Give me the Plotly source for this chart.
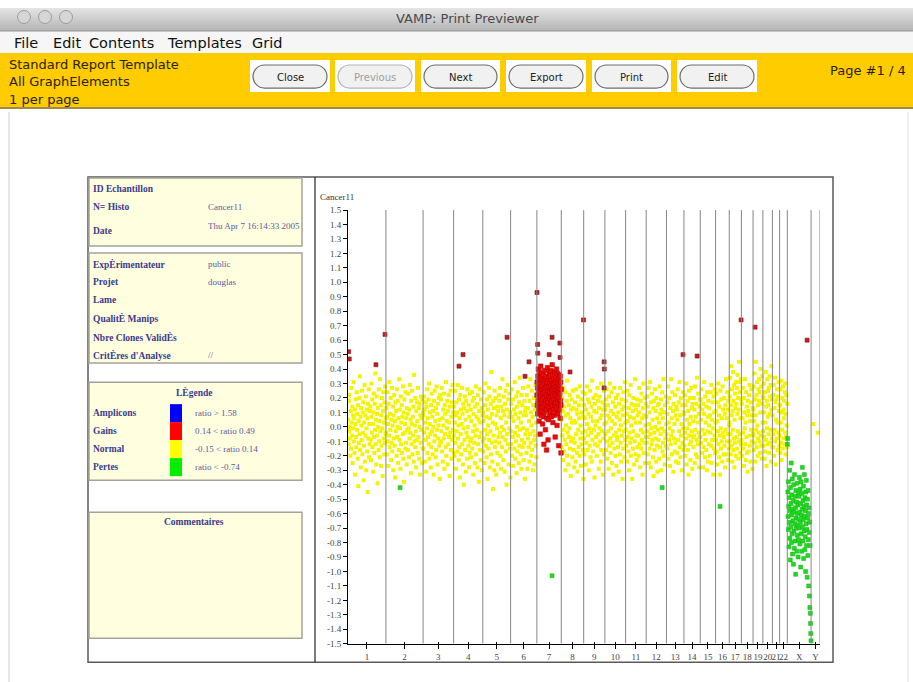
import plotly.graph_objects as go

W, H = 913, 682

# ---------------------------------------------------------------- data
chrom_names = ['1', '2', '3', '4', '5', '6', '7', '8', '9', '10', '11', '12',
               '13', '14', '15', '16', '17', '18', '19', '20', '21', '22', 'X', 'Y']
chrom_len_mb = [247, 242, 199, 190, 181, 171, 159, 146, 138, 135, 134, 132,
                114, 106, 100, 89, 79, 76, 64, 62, 47, 50, 155, 58]
# segment status of the bulk of clones on each chromosome
chrom_status = ['normal', 'normal', 'normal', 'normal', 'normal', 'normal', 'gain',
                'normal', 'normal', 'normal', 'normal', 'normal', 'normal', 'normal',
                'normal', 'normal', 'normal', 'normal', 'normal', 'normal', 'normal',
                'normal', 'loss', 'normal']

# log2 ratios x100, clones listed in map order along each chromosome
ratio_chr1 = [5, -12, 18, -3, 22, -8, 0, -20, 11, -15, 27, 3, -6, 14, -25, 8, -1, 31, -10, 6,
              -18, 12, -33, 2, 19, -7, -14, 24, -2, 9, -22, 15, -41, 4, -11, 20, -5, 35, -16, 7,
              -28, 13, 1, -9, 25, -19, 10, -4, 17, -37, -13, 3, 29, -24, 8, -6, 21, -30, -1, 12,
              -17, 6, -45, 16, -8, 26, -21, 2, -12, 11, 14, -9, -23, 7, 30, -4, 19, -14, 2, -31,
              10, 23, -7, -18, 16, -2, 37, -12, 5, -26, 21, -6, 9, -39, 13, 0, -16, 26, -10, 4,
              -21, 33, -3, 15, -27, 8, -13, 20, -1, -34, 11, 24, -8, 3, -19, 17, -11, 28, -5, 6]
ratio_chr2 = [-4, 13, -19, 7, 24, -10, 2, -27, 16, -6, 31, -14, 9, -2, 20, -23, 5, -11, 27, -17,
              1, 14, -30, 8, -8, 22, -13, 4, -35, 17, -3, 11, -20, 26, -7, 0, 18, -25, 6, -16,
              33, -9, 12, -1, -29, 21, -12, 3, 15, -18, 7, -5, 28, -22, 10, -38, 19, -4, 2, -15,
              24, -11, 6, -26, 13, -2, 9, -16, 23, -1, -21, 12, -8, 29, -4, 5, -32, 18, -12, 2,
              25, -19, 7, -6, 14, -24, 36, -10, 1, -14, 20, -3, -28, 11, -9, 17, 4, -18, 27, -7,
              13, -22, 0, 16, -33, 8, -11, 21, -2, 6, -25, 19, -15, 10]
ratio_chr3 = [8, -15, 21, -4, 12, -24, 3, 17, -9, -31, 14, -1, 26, -18, 6, -7, 19, -12, 30, -22,
              2, 10, -5, -28, 15, -14, 23, -3, 7, -19, 11, 0, -33, 18, -10, 25, -6, 4, -21, 13,
              -16, 28, -2, 9, -26, 16, -8, 1, 20, -13, 5, -36, 22, -11, -10, 19, -3, 27, -17, 6,
              -24, 12, 1, -8, 23, -29, 15, -5, 9, -14, 31, -20, 4, -1, 18, -26, 11, -12, 22, -7,
              3, -34, 14, -4, 25, -16, 7, -22, 17, -9, 29, -2, 10, -18]
ratio_chr4 = [-6, 14, -20, 3, 25, -11, 8, -29, 17, -3, 10, -17, 29, -8, 1, -23, 19, -14, 6, -35,
              22, -5, 12, -19, 2, 27, -12, 9, -26, 16, -1, -40, 13, -9, 21, -16, 5, -31, 18, -4,
              11, -22, 26, -7, 0, -13, 15, -28, 7, -18, 23, -10, 12, -21, 4, -8, 24, -15, 18, -3,
              -33, 9, 20, -11, 1, -25, 14, -6, 28, -19, 7, -2, 16, -28, 22, -12, 5, -38, 11, -7,
              26, -16, 3, -23, 19, -4, 13, -30, 8, -10]
ratio_chr5 = [10, -17, 4, 24, -8, -25, 15, -2, 30, -13, 7, -21, 19, -5, -36, 12, 1, -15, 27, -9,
              21, -28, 6, -3, 16, -19, 38, -11, 9, -24, 3, -43, 18, -6, 13, -30, 25, -14, 2, -10,
              20, -33, 8, -1, -18, 14, -26, 11, -7, 22, -11, 18, -4, 27, -20, 6, -29, 14, 0, -14,
              33, -7, 11, -23, 21, -2, 8, -31, 16, -9, 25, -17, 3, -40, 12, -5, 29, -12, 19, -26,
              7, -1, 23, -15, 10, -35]
ratio_chr6 = [-3, 16, -12, 26, -20, 7, -7, 19, -27, 4, 12, -15, 31, -4, -22, 9, -10, 21, -32, 14,
              0, -17, 24, -6, 6, -25, 17, -13, 34, -2, 10, -19, 3, -29, 22, -9, 15, -14, 27, -1,
              -23, 8, -11, 18, -36, 11, -5, 13, 8, -18, 22, -2, -29, 13, -8, 28, -14, 4, -24, 18,
              -5, 33, -11, 10, -20, 1, 25, -16, 7, -30, 15, -3, 20, -9, -26, 12, -6, 29, -13, 3,
              -21, 17]
ratio_chr7 = [22, 31, 15, 27, 9, 35, 18, 40, 25, 12, 29, 4, 33, 20, 38, 16, 24, -5, 30, 13,
              42, 21, 8, 34, 26, 17, 37, 11, 28, 19, 2, 32, 23, 14, 36, 7, 26, -12, 20, 30,
              10, 39, 24, 16, 33, -2, 27, 18, 35, 12, 22, -16, 29, 6, 31, 19, 41, 14, 25, -9,
              17, 28, 5, 34, 21, 13, 38, 24, 9, 30, 20, 35, 11, 28, 16, 39, 24, 7, 32, 18,
              26, 43, 14, 30, 21, 3, 36, 25, 12, 29, 33, 19, 8, 27, 38, 15, 23, -7, 31, 17,
              26, 10, 34, 22, 40, 13, 28, 1, 24, 37, 19, 30, 9, 25, 16, 33, -13, 27, 20, 36,
              12, 29, 23, 6, 35, 18, 31, 15, -18, 26]
ratio_chr8 = [5, -14, 20, -6, 11, -23, 27, -2, -17, 14, -9, 24, -30, 8, 1, -12, 18, -20, 32, -4,
              9, -26, 15, -7, -1, 22, -15, 6, -34, 12, -10, 19, 3, -21, 25, -8, 13, -16, 4, -28,
              -11, 17, 3, -24, 26, -5, 12, -18, 9, -31, 21, -2, -14, 15, 6, -20, 28, -8, 1, -27,
              19, -12, 10, -4, 24, -16, 7, -36]
ratio_chr9 = [-8, 15, -19, 6, 23, -3, -26, 12, -11, 28, 2, -16, 19, -6, 9, -30, 17, -1, -13, 25,
              -21, 7, -4, 14, -24, 32, -9, 4, -17, 20, -2, 11, -35, 16, -12, 1, 22, -7, 10, -20,
              4, 27, -13, 18, -5, -29, 13, -1, 21, -10, 6, -24, 30, -16, 8, -3, 17, -33, 12, -8,
              25, -19, 2, 15]
ratio_chr10 = [12, -5, 19, -16, 3, 26, -10, -22, 8, 15, -3, -29, 21, -13, 6, 30, -8, -18, 11, -1,
               24, -25, 4, -11, 17, -33, 9, -6, 27, -15, 2, 14, -20, -4, 20, -27, 7, -9, -7, 22,
               -14, 10, -31, 16, -2, 5, -19, 27, -11, 1, -24, 19, -6, 12, -36, 8, -15, 24, -3, 14,
               -21, 31, -9, 3]
ratio_chr11 = [-2, 18, -13, 9, -24, 25, -7, 4, -17, 13, -30, 22, -4, 7, -11, 29, -20, 1, 16, -8,
               -36, 11, -15, 20, -3, 6, -26, 15, -10, 33, -19, 3, 12, -6, -23, 19, -14, 8, 15, -6,
               -20, 10, 27, -12, 3, -28, 18, -2, -15, 23, -9, 6, -33, 13, -4, 30, -18, 8, -11, 20,
               -25, 1, 16, -7]
ratio_chr12 = [7, -11, 21, -3, -19, 14, -7, 27, -25, 2, 10, -15, 31, -5, -28, 17, -1, -12, 23, -9,
               5, -21, 13, -34, 18, -4, -16, 26, 0, -8, 11, -24, 20, -13, 6, -31, 15, -2, -9, 16,
               3, -22, 28, -14, 9, -5, 19, -30, 12, -1, 24, -17, 6, -11, 33, -20, 10, -3, -26, 15,
               -8, 21, -13, 2]
ratio_chr13 = [-5, 17, -15, 9, 28, -22, 3, -9, 20, -1, -27, 13, -12, 33, -6, 6, -19, 24, -3, 11,
               -31, 16, -8, 2, -17, 22, -11, 8, -24, 14, 12, -18, 5, 26, -9, -25, 17, -3, 31, -14,
               8, -21, 20, -6, 2, -30, 15, -11, 24, -1, -16, 10]
ratio_chr14 = [9, -13, 22, -4, -20, 15, -8, 30, -26, 5, -1, 18, -16, 11, -33, 25, -6, 2, -12, 20,
               -23, 7, -10, 27, -3, 13, -29, 16, -7, 4, -14, 20, -6, 12, -25, 28, -2, 7, -19, 16,
               -9, 34, -21, 3, -12, 23, -4, 9, -28, 14, -7, 19]
ratio_chr15 = [-7, 19, -11, 5, 26, -18, 12, -2, -28, 16, -14, 9, 31, -5, -21, 21, -9, 3, -16, 14,
               -30, 24, -3, 7, -24, 18, -12, 1, 13, -20, 8, -4, 24, -13, 29, -25, 5, -9, 17, -1,
               -33, 21, -15, 10, -6, 26, -18, 3]
ratio_chr16 = [11, -9, 23, -17, 4, -26, 17, -3, 30, -12, 8, -21, 14, -6, -33, 25, -1, -15, 19, -10,
               6, -24, 28, -4, 12, -19, -7, 20, -13, 9, -28, 15, -2, 33, -19, 6, -10, 24, -5, 12,
               -23, 18, -15, 1]
ratio_chr17 = [3, 21, -10, 34, -5, -19, 15, 42, -13, 8, 26, -24, 11, -2, 38, -16, 18, -8, 29, -28,
               5, -11, 23, 13, -20, 31, 16, -7, 27, -15, 9, 36, -3, 20, -22, 12, 45, -10, 31, -5,
               24, -18, 6, 33, -12, 19]
ratio_chr18 = [-9, 16, -20, 6, 27, -4, -15, 20, -27, 10, -1, 33, -12, 3, -23, 24, -7, 14, -18, 8,
               -31, 18, 11, -17, 22, -6, 29, -13, 4, -24, 17, -2, 26, -10, 8, -29, 13, -5]
ratio_chr19 = [12, -6, 28, -16, 4, 37, -11, 19, -24, 8, 45, -2, 22, -14, 31, 1, -20, 15, -8, 26,
               -4, 18, 33, -10, 24, -18, 10, 40, -6, 28, -13, 16, -22, 35, 3, 21]
ratio_chr20 = [-3, 20, -13, 30, -7, 10, -22, 24, 3, -17, 38, -9, 14, -27, 18, -1, 33, -12, 7, 25,
               15, -5, 27, -18, 9, 35, -11, 21, -2, 29, -24, 12, 42, -8, 19, -14]
ratio_chr21 = [8, -14, 22, -5, 29, -20, 13, -2, 34, -10, 17, -26, 5, 19, -8, 26, 3, -16, 21, -4,
               31, 11, -13, 15]
ratio_chr22 = [-6, 15, -18, 26, 3, -11, 32, -23, 10, -2, 20, -15, 28, -8, 12, 6, 18, -12, 24, -4,
               30, -19, 9, -7, 22, 1, -14, 16]
ratio_chrX = [-12, -8, -45, -62, -38, -71, -55, -83, -49, -66, -30, -77, -58, -92, -42, -69, -53,
              -25, -80, -61, -47, -74, -36, -88, -57, -65, -51, -95, -40, -72, -59, -84, -33, -67,
              -48, -79, -56, -102, -44, -63, -70, -52, -86, -39, -75, -60, -68, -54, -90, -46, -78,
              -64, -48, -70, -35, -59, -81, -43, -66, -53, -97, -38, -74, -61, -86, -46, -57, -28,
              -69, -79, -51, -64, -41, -91, -55, -72, -33, -62, -85, -49, -76, -58, -100, -45, -67,
              -37, -82, -54, -71, -104, -50, -63, -89, -44, -78, -60, -110, -56, -73, -117, -66,
              -125, -82, -129, -136, -143, -148]
ratio_chrY = [2, -4]

# isolated clones called apart from their surrounding segment
outlier_chrom = ['1', '1', '1', '1', '2', '4', '4', '5', '6', '6', '7', '7', '7', '7', '7', '7',
                 '7', '7', '8', '8', '9', '9', '9', '12', '13', '14', '16', '17', '19', 'X']
outlier_pos_mb = [4, 8, 182, 241, 92, 35, 61, 158, 94, 120, 1, 5, 6, 80, 99, 150,
                  151, 99, 57, 145, 133, 134, 133, 104, 108, 86, 29, 77, 13, 129]
outlier_ratio = [0.52, 0.47, 0.43, 0.64, -0.42, 0.42, 0.50, 0.62, 0.35, 0.45, 0.93, 0.57, 0.51,
                 0.50, 0.62, 0.58, 0.48, -1.03, 0.38, 0.74, 0.45, 0.40, 0.27, -0.42, 0.50, 0.49,
                 -0.55, 0.74, 0.69, 0.60]
outlier_status = ['iso', 'iso', 'iso', 'iso', 'loss', 'iso', 'iso', 'iso', 'iso', 'iso', 'iso',
                  'iso', 'iso', 'iso', 'iso', 'iso', 'iso', 'loss', 'iso', 'iso', 'iso', 'iso',
                  'iso', 'loss', 'iso', 'iso', 'loss', 'iso', 'iso', 'iso']

y_ticks = [1.5, 1.4, 1.3, 1.2, 1.1, 1.0, 0.9, 0.8, 0.7, 0.6, 0.5, 0.4, 0.3, 0.2, 0.1, 0.0,
           -0.1, -0.2, -0.3, -0.4, -0.5, -0.6, -0.7, -0.8, -0.9, -1.0, -1.1, -1.2, -1.3, -1.4, -1.5]

sample_fields = [('ID Echantillon', ''), ('N= Histo', 'Cancer11'), ('Date', 'Thu Apr 7 16:14:33 2005')]
experiment_fields = [('ExpÈrimentateur', 'public'), ('Projet', 'douglas'), ('Lame', ''),
                     ('QualitÈ Manips', ''), ('Nbre Clones ValidÈs', ''), ("CritÈres d'Analyse", '//')]
legend_rows = [('Amplicons', 'ratio > 1.58', '#0000FF'), ('Gains', '0.14 < ratio 0.49', '#FF0000'),
               ('Normal', '-0.15 < ratio 0.14', '#FFFF00'), ('Pertes', 'ratio < -0.74', '#00EE00')]
button_labels = ['Close', 'Previous', 'Next', 'Export', 'Print', 'Edit']
menu_items = ['File', 'Edit', 'Contents', 'Templates', 'Grid']
info_lines = ['Standard Report Template', 'All GraphElements', '1 per page']

chrom_ratios = [ratio_chr1, ratio_chr2, ratio_chr3, ratio_chr4, ratio_chr5, ratio_chr6, ratio_chr7,
                ratio_chr8, ratio_chr9, ratio_chr10, ratio_chr11, ratio_chr12, ratio_chr13,
                ratio_chr14, ratio_chr15, ratio_chr16, ratio_chr17, ratio_chr18, ratio_chr19,
                ratio_chr20, ratio_chr21, ratio_chr22, ratio_chrX, ratio_chrY]

# ---------------------------------------------------------------- genome coordinates
chrom_start = []
acc = 0
for L in chrom_len_mb:
    chrom_start.append(acc)
    acc += L
genome_len = acc
chrom_center = [s + L / 2 for s, L in zip(chrom_start, chrom_len_mb)]
chrom_bounds = [s + L for s, L in zip(chrom_start, chrom_len_mb)]
start_of = dict(zip(chrom_names, chrom_start))

groups = {'normal': ([], []), 'loss': ([], []), 'gain': ([], []), 'iso': ([], [])}
for name, start, L, status, vals in zip(chrom_names, chrom_start, chrom_len_mb, chrom_status, chrom_ratios):
    n = len(vals)
    for i, v in enumerate(vals):
        groups[status][0].append(start + (i + 0.5) * L / n)
        groups[status][1].append(v / 100)
for c, p, v, s in zip(outlier_chrom, outlier_pos_mb, outlier_ratio, outlier_status):
    groups[s][0].append(start_of[c] + p)
    groups[s][1].append(v)

# ---------------------------------------------------------------- helpers (page pixels -> paper)
def X(px):
    return px / W


def Y(py):
    return 1 - (py - 5) / 0.985 / H


shapes = []
annotations = []


def rect(x0, y0, x1, y1, fill, line=None, lw=1.0):
    shapes.append(dict(type='rect', xref='paper', yref='paper', x0=X(x0), x1=X(x1), y0=Y(y1), y1=Y(y0),
                       fillcolor=fill, line=dict(color=line if line else 'rgba(0,0,0,0)', width=lw if line else 0),
                       layer='below'))


def hline(x0, x1, y, color, lw=1.0):
    shapes.append(dict(type='line', xref='paper', yref='paper', x0=X(x0), x1=X(x1), y0=Y(y), y1=Y(y),
                       line=dict(color=color, width=lw), layer='below'))


def vline(x, y0, y1, color, lw=1.0):
    shapes.append(dict(type='line', xref='paper', yref='paper', x0=X(x), x1=X(x), y0=Y(y0), y1=Y(y1),
                       line=dict(color=color, width=lw), layer='below'))


def text(px, py, s, size, color, family, anchor='left', bold=False):
    annotations.append(dict(x=X(px), y=Y(py), xref='paper', yref='paper',
                            text=f'<b>{s}</b>' if bold else s, showarrow=False,
                            xanchor=anchor, yanchor='middle',
                            font=dict(size=size, color=color, family=family)))


def pill(x0, y0, x1, y1, fill, line):
    r = (y1 - y0) / 2
    cy = (y0 + y1) / 2
    k = 0.5523 * r
    segs = [('M', [(x0 + r, y0)]), ('L', [(x1 - r, y0)]),
            ('C', [(x1 - r + k, y0), (x1, cy - k), (x1, cy)]),
            ('C', [(x1, cy + k), (x1 - r + k, y1), (x1 - r, y1)]),
            ('L', [(x0 + r, y1)]),
            ('C', [(x0 + r - k, y1), (x0, cy + k), (x0, cy)]),
            ('C', [(x0, cy - k), (x0 + r - k, y0), (x0 + r, y0)])]
    path = ' '.join(cmd + ' ' + ' '.join(f'{X(a):.5f},{Y(b):.5f}' for a, b in pts) for cmd, pts in segs) + ' Z'
    shapes.append(dict(type='path', xref='paper', yref='paper', path=path, fillcolor=fill,
                       line=dict(color=line, width=1.2), layer='below'))


UI = 'DejaVu Sans'
SERIF = 'Liberation Serif'

# ---------------------------------------------------------------- window chrome
top, bot = 8, 31
for i in range(bot - top):
    t = i / (bot - top - 1)
    g = int(228 - t * 46)
    rect(0, top + i, W, top + i + 1, f'rgb({g},{g},{g})')
hline(0, W, bot, '#8E8E8E')
for cx in (24, 45, 66):
    shapes.append(dict(type='circle', xref='paper', yref='paper', x0=X(cx - 6.5), x1=X(cx + 6.5),
                       y0=Y(17 + 6.5), y1=Y(17 - 6.5), fillcolor='#D6D6D6',
                       line=dict(color='#9C9C9C', width=1), layer='below'))
text(467, 18, 'VAMP: Print Previewer', 13, '#4A4A4A', UI, anchor='center')

rect(0, 32, W, 53, '#F6F6F6')
menu_x = [12, 51, 87, 165, 250]
for mx, item in zip(menu_x, menu_items):
    text(mx, 43, item, 14.5, '#111111', UI)

rect(0, 53, W, 107, '#FFCC00')
hline(0, W, 108, '#A08A4C', 2)
for ly, line in zip([64, 81, 99], info_lines):
    text(7, ly, line, 13, '#2A2200', UI)
text(908, 70, 'Page #1 / 4', 13, '#2A2200', UI, anchor='right')

box_x = [(250, 330), (335, 415), (421, 500), (506, 586), (592, 671), (677, 757)]
for (bx0, bx1), label in zip(box_x, button_labels):
    rect(bx0, 60, bx1, 92, '#FFFFFF')
    disabled = label == 'Previous'
    pill(bx0 + 3, 65, bx1 - 3, 88, '#F1F1F1', '#B4B4B4' if disabled else '#6E6E6E')
    text((bx0 + bx1) / 2, 77, label, 10, '#A0A0A0' if disabled else '#222222', UI, anchor='center')

vline(9, 112, H + 10, '#D0D0D0')
vline(908, 112, H + 10, '#E0E0E0')

# ---------------------------------------------------------------- report page
rect(88, 177, 833, 662, 'rgba(0,0,0,0)', '#5A5A5A', 1.5)
vline(315, 177, 662, '#222222', 1.2)

PANEL_FILL = '#FFFFE0'
PANEL_LINE = '#A4A49A'
LABEL = '#3A3A8C'
VALUE = '#5A5A9E'

rect(89, 178, 302, 246, PANEL_FILL, PANEL_LINE, 1.5)
for ry, (lab, val) in zip([189, 207, 231], sample_fields):
    text(91, ry, lab, 9.5, LABEL, SERIF, bold=True)
for ry, val in zip([189, 207, 226], [v for _, v in sample_fields]):
    if val:
        text(206, ry, val, 9, VALUE, SERIF)

rect(89, 253, 302, 363, PANEL_FILL, PANEL_LINE, 1.5)
for ry, (lab, val) in zip([264, 282, 300, 318, 337, 355], experiment_fields):
    text(91, ry, lab, 9.5, LABEL, SERIF, bold=True)
    if val:
        text(206, ry, val, 9, VALUE, SERIF)

rect(89, 382, 302, 480, PANEL_FILL, PANEL_LINE, 1.5)
text(194, 392, 'LÈgende', 9.5, LABEL, SERIF, anchor='center', bold=True)
for i, (lab, rng, col) in enumerate(legend_rows):
    y0 = 404 + 18 * i
    rect(170, y0, 182, y0 + 18, col)
    text(91, y0 + 9, lab, 9.5, LABEL, SERIF, bold=True)
    text(193, y0 + 9, rng, 9, VALUE, SERIF)

rect(89, 512, 302, 638, PANEL_FILL, PANEL_LINE, 1.5)
text(194, 522, 'Commentaires', 9.5, LABEL, SERIF, anchor='center', bold=True)

text(318, 197, 'Cancer11', 9, '#333333', SERIF)

# chromosome boundaries
for b in chrom_bounds:
    shapes.append(dict(type='line', xref='x', yref='y', x0=b, x1=b, y0=-1.5, y1=1.5,
                       line=dict(color='#858585', width=1), layer='above'))

# ---------------------------------------------------------------- traces
style = {
    'normal': dict(color='#F4F400', size=4, line=dict(width=0)),
    'loss': dict(color='#1FDC1F', size=4, line=dict(color='#12B012', width=0.5)),
    'gain': dict(color='#EE0A0A', size=4.5, line=dict(color='#B00000', width=0.5)),
    'iso': dict(color='#C02020', size=4, line=dict(color='#801010', width=0.6)),
}
fig = go.Figure()
for key in ['normal', 'loss', 'gain', 'iso']:
    xs, ys = groups[key]
    fig.add_trace(go.Scatter(x=xs, y=ys, mode='markers', hoverinfo='skip', showlegend=False,
                             marker=dict(symbol='square', **style[key])))
# companion axis carrying the upper half of each x tick
fig.add_trace(go.Scatter(x=[None], y=[None], xaxis='x2', yaxis='y', showlegend=False, hoverinfo='skip'))

tick_font = dict(family=SERIF, size=9, color='#444444')
fig.update_layout(
    width=W, height=H, margin=dict(l=0, r=0, t=0, b=0),
    paper_bgcolor='white', plot_bgcolor='rgba(0,0,0,0)',
    shapes=shapes, annotations=annotations, showlegend=False,
    xaxis=dict(domain=[X(348), X(820)], range=[0, genome_len], showgrid=False, zeroline=False,
               showline=True, linecolor='black', linewidth=1, ticks='outside', ticklen=4,
               tickcolor='black', tickvals=chrom_center, ticktext=chrom_names, tickfont=tick_font,
               tickangle=0, fixedrange=True),
    xaxis2=dict(overlaying='x', anchor='y', side='bottom', range=[0, genome_len], showgrid=False,
                zeroline=False, showline=False, ticks='inside', ticklen=2, tickcolor='black',
                tickvals=chrom_center, showticklabels=False),
    yaxis=dict(domain=[Y(643.5), Y(210)], range=[-1.5, 1.5], showgrid=False, zeroline=False,
               showline=True, linecolor='black', linewidth=1, ticks='outside', ticklen=4,
               tickcolor='black', tickvals=y_ticks, ticktext=[f'{v:.1f}' for v in y_ticks],
               tickfont=tick_font, fixedrange=True),
)

fig.write_html('out.html')
